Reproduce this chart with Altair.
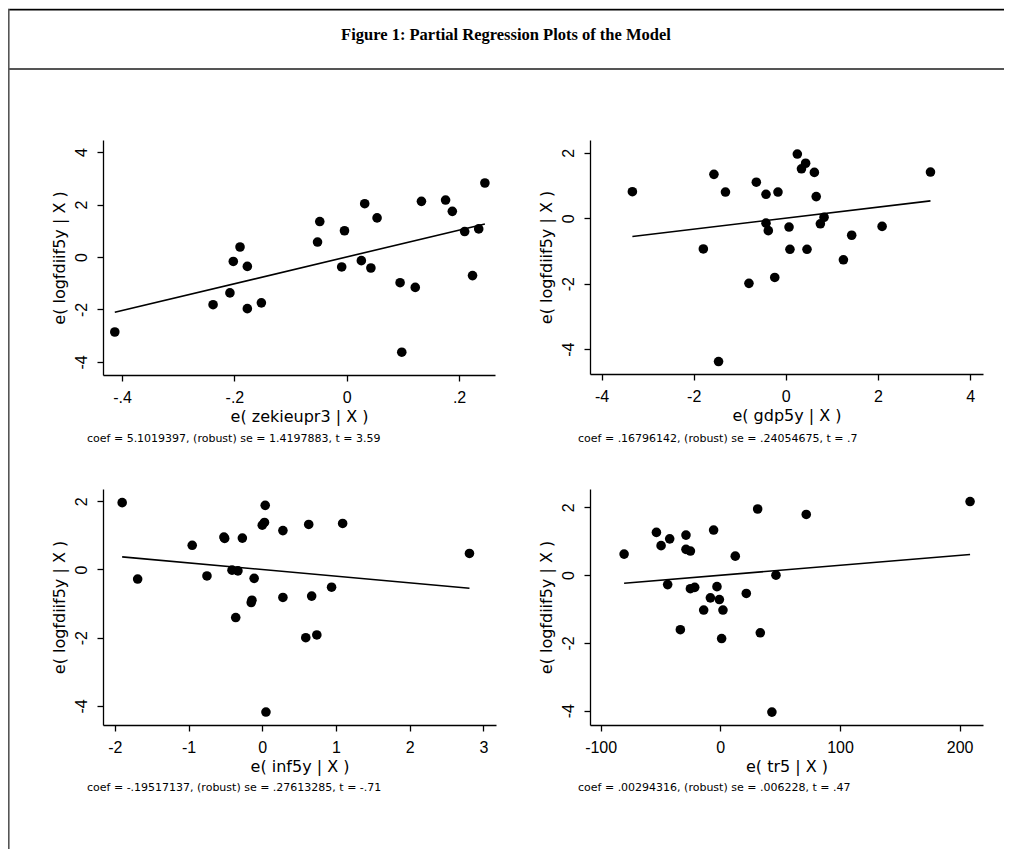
import altair as alt
import pandas as pd

# ---------------- data ----------------
fig_title = "Figure 1: Partial Regression Plots of the Model"
y_title = "e( logfdiif5y | X )"

p1_x = [-0.413, -0.238, -0.208, -0.202, -0.190, -0.177, -0.177, -0.152, -0.052, -0.048,
        -0.009, -0.004, 0.026, 0.032, 0.043, 0.054, 0.095, 0.098, 0.122, 0.133,
        0.176, 0.188, 0.210, 0.224, 0.235, 0.246]
p1_y = [-2.86, -1.82, -1.37, -0.17, 0.38, -0.36, -1.97, -1.75, 0.57, 1.35,
        -0.38, 1.00, -0.14, 2.03, -0.42, 1.49, -0.98, -3.63, -1.16, 2.12,
        2.17, 1.74, 0.97, -0.71, 1.07, 2.82]
p1_fit_x = [-0.413, 0.246]
p1_fit_y = [-2.11, 1.26]
p1_xticks = [-0.4, -0.2, 0, 0.2]
p1_xlabels = ["-.4", "-.2", "0", ".2"]
p1_yticks = [-4, -2, 0, 2, 4]
p1_ylabels = ["-4", "-2", "0", "2", "4"]
p1_xtitle = "e( zekieupr3 | X )"
p1_note = "coef = 5.1019397, (robust) se = 1.4197883, t = 3.59"

p2_x = [-3.33, -1.79, -1.56, -1.46, -1.31, -0.80, -0.64, -0.43, -0.43, -0.38,
        -0.24, -0.17, 0.07, 0.09, 0.25, 0.34, 0.43, 0.46, 0.62, 0.66,
        0.75, 0.83, 1.25, 1.43, 2.09, 3.14]
p2_y = [0.81, -0.94, 1.34, -4.38, 0.80, -1.99, 1.10, 0.73, -0.15, -0.38,
        -1.81, 0.80, -0.27, -0.95, 1.96, 1.51, 1.68, -0.95, 1.40, 0.66,
        -0.17, 0.03, -1.27, -0.52, -0.25, 1.41]
p2_fit_x = [-3.33, 3.14]
p2_fit_y = [-0.56, 0.53]
p2_xticks = [-4, -2, 0, 2, 4]
p2_xlabels = ["-4", "-2", "0", "2", "4"]
p2_yticks = [-4, -2, 0, 2]
p2_ylabels = ["-4", "-2", "0", "2"]
p2_xtitle = "e( gdp5y | X )"
p2_note = "coef = .16796142, (robust) se = .24054675, t = .7"

p3_x = [-1.90, -1.69, -0.95, -0.75, -0.51, -0.52, -0.41, -0.33, -0.36, -0.27,
        -0.15, -0.14, -0.11, 0.00, 0.03, 0.04, 0.05, 0.28, 0.28, 0.59,
        0.63, 0.67, 0.74, 0.94, 1.09, 2.81]
p3_y = [1.96, -0.28, 0.71, -0.19, 0.91, 0.95, -0.02, -0.04, -1.41, 0.92,
        -0.97, -0.90, -0.26, 1.30, 1.38, 1.88, -4.18, 1.14, -0.82, -2.00,
        1.32, -0.78, -1.92, -0.52, 1.35, 0.47]
p3_fit_x = [-1.90, 2.81]
p3_fit_y = [0.37, -0.55]
p3_xticks = [-2, -1, 0, 1, 2, 3]
p3_xlabels = ["-2", "-1", "0", "1", "2", "3"]
p3_yticks = [-4, -2, 0, 2]
p3_ylabels = ["-4", "-2", "0", "2"]
p3_xtitle = "e( inf5y | X )"
p3_note = "coef = -.19517137, (robust) se = .27613285, t = -.71"

p4_x = [-80.4, -53.4, -49.5, -44.0, -42.3, -33.4, -28.7, -28.7, -25.0, -25.0,
        -21.4, -13.9, -8.3, -5.6, -2.8, -0.8, 1.1, 2.2, 12.5, 21.7,
        31.2, 33.4, 43.1, 46.5, 71.8, 208.7]
p4_y = [0.62, 1.26, 0.87, -0.28, 1.07, -1.61, 1.18, 0.76, 0.71, -0.40,
        -0.36, -1.03, -0.67, 1.33, -0.34, -0.72, -1.87, -1.03, 0.56, -0.54,
        1.95, -1.70, -4.04, 0.00, 1.79, 2.17]
p4_fit_x = [-80.4, 208.7]
p4_fit_y = [-0.24, 0.61]
p4_xticks = [-100, 0, 100, 200]
p4_xlabels = ["-100", "0", "100", "200"]
p4_yticks = [-4, -2, 0, 2]
p4_ylabels = ["-4", "-2", "0", "2"]
p4_xtitle = "e( tr5 | X )"
p4_note = "coef = .00294316, (robust) se = .006228, t = .47"

# ---------------- layout (pixels inside the view) ----------------
W, H = 996, 841

panels = [
    dict(x=p1_x, y=p1_y, fx=p1_fit_x, fy=p1_fit_y, xt=p1_xticks, xl=p1_xlabels,
         yt=p1_yticks, yl=p1_ylabels, xtitle=p1_xtitle, note=p1_note,
         xdom=[-0.434, 0.264], ydom=[-4.5, 4.46], xr=[95, 487], yr=[367, 132],
         note_pos=(79, 431)),
    dict(x=p2_x, y=p2_y, fx=p2_fit_x, fy=p2_fit_y, xt=p2_xticks, xl=p2_xlabels,
         yt=p2_yticks, yl=p2_ylabels, xtitle=p2_xtitle, note=p2_note,
         xdom=[-4.25, 4.28], ydom=[-4.76, 2.39], xr=[582, 975], yr=[366, 132],
         note_pos=(570, 431)),
    dict(x=p3_x, y=p3_y, fx=p3_fit_x, fy=p3_fit_y, xt=p3_xticks, xl=p3_xlabels,
         yt=p3_yticks, yl=p3_ylabels, xtitle=p3_xtitle, note=p3_note,
         xdom=[-2.16, 3.17], ydom=[-4.56, 2.36], xr=[95, 488], yr=[717, 481],
         note_pos=(79, 780)),
    dict(x=p4_x, y=p4_y, fx=p4_fit_x, fy=p4_fit_y, xt=p4_xticks, xl=p4_xlabels,
         yt=p4_yticks, yl=p4_ylabels, xtitle=p4_xtitle, note=p4_note,
         xdom=[-108.9, 219.5], ydom=[-4.42, 2.54], xr=[582, 975], yr=[717, 481],
         note_pos=(570, 780)),
]


def label_expr(values, labels):
    expr = "''"
    for v, l in reversed(list(zip(values, labels))):
        expr = f"datum.value == {v} ? '{l}' : ({expr})"
    return expr


axis_common = dict(grid=False, domainColor="black", domainWidth=1.3, tickColor="black",
                   tickWidth=1.3, tickSize=6, labelColor="black", titleColor="black",
                   labelFont="Liberation Sans", labelFontSize=16, titleFont="DejaVu Sans",
                   titleFontSize=16, titleFontWeight="normal", labelFlush=False,
                   labelOverlap=False)

layers = []
for p in panels:
    xs = alt.Scale(domain=p["xdom"], range=p["xr"], nice=False, zero=False)
    ys = alt.Scale(domain=p["ydom"], range=p["yr"], nice=False, zero=False)
    xaxis = alt.Axis(orient="bottom", offset=p["yr"][0] - H, values=p["xt"],
                     labelExpr=label_expr(p["xt"], p["xl"]), title=p["xtitle"],
                     labelPadding=8, titlePadding=3, **axis_common)
    yaxis = alt.Axis(orient="left", offset=-p["xr"][0], values=p["yt"],
                     labelExpr=label_expr(p["yt"], p["yl"]), title=y_title,
                     labelAngle=270, labelAlign="center", labelBaseline="alphabetic",
                     labelPadding=11, titlePadding=6, **axis_common)
    pts = alt.Chart(pd.DataFrame({"x": p["x"], "y": p["y"]})).mark_circle(
        size=92, color="black", opacity=1
    ).encode(x=alt.X("x:Q", scale=xs, axis=xaxis), y=alt.Y("y:Q", scale=ys, axis=yaxis))
    fit = alt.Chart(pd.DataFrame({"x": p["fx"], "y": p["fy"]})).mark_line(
        color="black", strokeWidth=1.6
    ).encode(x=alt.X("x:Q", scale=xs, axis=None), y=alt.Y("y:Q", scale=ys, axis=None))
    note = alt.Chart(pd.DataFrame({"t": [p["note"]]})).mark_text(
        align="left", baseline="middle", font="DejaVu Sans", fontSize=11, color="black"
    ).encode(x=alt.value(p["note_pos"][0]), y=alt.value(p["note_pos"][1]), text="t:N")
    layers += [pts, fit, note]

one = pd.DataFrame({"a": [0]})
title = alt.Chart(pd.DataFrame({"t": [fig_title]})).mark_text(
    font="Liberation Serif", fontWeight="bold", fontSize=16.5, align="center",
    baseline="middle", color="black"
).encode(x=alt.value(498), y=alt.value(27), text="t:N")
top_shade = alt.Chart(one).mark_rule(color="#c8c8c8", strokeWidth=1).encode(
    x=alt.value(0), x2=alt.value(W), y=alt.value(0.5))
top_line = alt.Chart(one).mark_rule(color="black", strokeWidth=1.4).encode(
    x=alt.value(0), x2=alt.value(W), y=alt.value(1.7))
sep_line = alt.Chart(one).mark_rule(color="#555555", strokeWidth=2).encode(
    x=alt.value(0), x2=alt.value(W), y=alt.value(61))
left_line = alt.Chart(one).mark_rule(color="#555555", strokeWidth=1.6).encode(
    x=alt.value(0.8), y=alt.value(1), y2=alt.value(H))

chart = alt.layer(top_shade, top_line, sep_line, left_line, title, *layers).resolve_scale(
    x="independent", y="independent"
).resolve_axis(x="independent", y="independent").properties(
    width=W, height=H, autosize=alt.AutoSizeParams(type="none"), padding=0,
    background="white"
).configure_view(stroke="transparent")

chart.save("out.html", embed_options={"renderer": "svg", "actions": False})
